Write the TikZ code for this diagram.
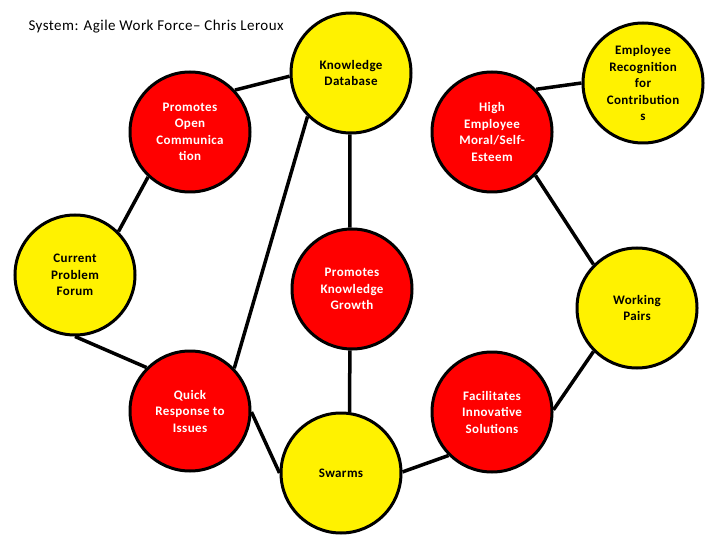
\documentclass[tikz,border=0pt]{standalone}
\usepackage{fontspec}
\setmainfont{Carlito}
\newfontfamily\bubfont[LetterSpace=3]{Carlito}
\begin{document}
\begin{tikzpicture}[x=1pt,y=-1pt,
  bubble/.style={circle,draw=black,line width=3pt,minimum size=120pt,inner sep=0pt,align=center,
    font=\bubfont\fontsize{13}{16.5}\selectfont\bfseries},
  ybub/.style={bubble,fill=yellow,text=black},
  rbub/.style={bubble,fill=red,text=white},
  link/.style={line width=3.5pt,black}]
\useasboundingbox[fill=white] (0,0) rectangle (720,540);
\node[anchor=base west,font=\bubfont\fontsize{15}{18}\selectfont] (title) at (25,31) {System: Agile Work Force– Chris Leroux};
\node[ybub] (kd) at (351,73) {Knowledge\\Database};
\node[ybub] (er) at (643,83) {Employee\\Recognition\\for\\Contribution\\s};
\node[rbub] (oc) at (190,132) {Promotes\\Open\\Communica\\tion};
\node[rbub] (he) at (492,132) {High\\Employee\\Moral/Self-\\Esteem};
\node[ybub] (cpf) at (75,275) {Current\\Problem\\Forum};
\node[rbub] (pkg) at (352,289) {Promotes\\Knowledge\\Growth};
\node[ybub] (wp) at (637,308) {Working\\Pairs};
\node[rbub] (qr) at (190,411) {Quick\\Response to\\Issues};
\node[rbub] (fis) at (492,412) {Facilitates\\Innovative\\Solutions};
\node[ybub] (sw) at (341,473) {Swarms};
\draw[link] (oc.43) -- (kd.183);
\draw[link] (oc.227) -- (cpf.45);
\draw[link] (kd.225) -- (qr.44);
\draw[link] (kd.269) -- (pkg.92);
\draw[link] (he.44) -- (er.180);
\draw[link] (he.315) -- (wp.135);
\draw[link] (cpf.270) -- (qr.135);
\draw[link] (pkg.268) -- (sw.82);
\draw[link] (qr.359) -- (sw.180);
\draw[link] (sw.1) -- (fis.225);
\draw[link] (fis.2) -- (wp.225);
\end{tikzpicture}
\end{document}
